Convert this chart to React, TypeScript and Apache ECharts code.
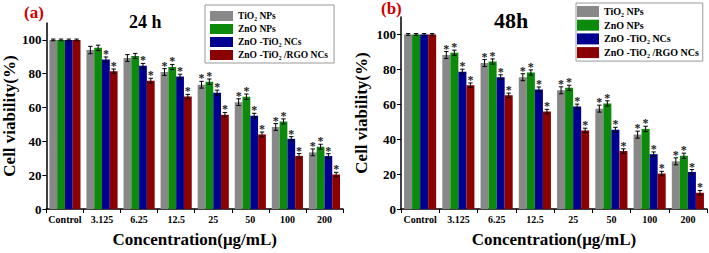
import React, { useEffect, useRef } from "react";
import * as echarts from "echarts";

const categories = ["Control", "3.125", "6.25", "12.5", "25", "50", "100", "200"];
const seriesNames = ["TiO₂ NPs", "ZnO NPs", "ZnO -TiO₂ NCs", "ZnO -TiO₂ /RGO NCs"];
const yTicks = [0, 20, 40, 60, 80, 100];

// 24 h
const tio2_24 = [100, 94, 89.3, 81, 73.5, 63.2, 48.5, 33.5];
const zno_24 = [100, 95.3, 90.5, 84, 75.3, 66.4, 51.8, 36.8];
const znoTio2_24 = [100, 88.4, 84.7, 78.3, 68.8, 55.2, 41.5, 31.3];
const rgo_24 = [100, 81.5, 75.9, 66.5, 55.7, 44.1, 31.4, 20.4];
const tio2Err_24 = [0.5, 2.2, 2.0, 2.0, 2.0, 2.0, 2.0, 2.0];
const znoErr_24 = [0.5, 1.6, 1.5, 1.5, 1.6, 1.6, 1.5, 1.5];
const znoTio2Err_24 = [0.5, 1.5, 1.4, 1.4, 1.5, 1.4, 1.3, 1.4];
const rgoErr_24 = [0.5, 1.3, 1.4, 1.3, 1.4, 1.4, 1.4, 1.3];
const tio2Star_24 = [0, 0, 0, 1, 1, 1, 1, 1];
const znoStar_24 = [0, 0, 0, 1, 1, 1, 1, 1];
const znoTio2Star_24 = [0, 1, 1, 1, 1, 1, 1, 1];
const rgoStar_24 = [0, 1, 1, 1, 1, 1, 1, 1];

// 48 h
const tio2_48 = [100, 88.2, 83.6, 75.5, 68, 57.5, 42.6, 27.3];
const zno_48 = [100, 89.5, 84.5, 78.2, 69.4, 60.5, 45.9, 30.5];
const znoTio2_48 = [100, 78.7, 75.5, 68.5, 58.7, 45.4, 31.4, 21.2];
const rgo_48 = [100, 70.9, 65.1, 55.8, 45, 33.2, 20.3, 9.3];
const tio2Err_48 = [0.5, 2.0, 2.0, 2.0, 2.0, 2.0, 2.0, 2.0];
const znoErr_48 = [0.5, 1.5, 1.5, 1.5, 1.5, 1.5, 1.5, 1.5];
const znoTio2Err_48 = [0.5, 1.4, 1.4, 1.4, 1.4, 1.4, 1.3, 1.4];
const rgoErr_48 = [0.5, 1.3, 1.3, 1.3, 1.3, 1.3, 1.3, 1.3];
const tio2Star_48 = [0, 1, 1, 1, 1, 1, 1, 1];
const znoStar_48 = [0, 1, 1, 1, 1, 1, 1, 1];
const znoTio2Star_48 = [0, 1, 1, 1, 1, 1, 1, 1];
const rgoStar_48 = [0, 1, 1, 1, 1, 1, 1, 1];

const colors = ["#888888", "#0b8a0b", "#000090", "#8b0000"];
const FONT = "'Liberation Serif', 'Times New Roman', serif";

const panels = [
  {
    values: [tio2_24, zno_24, znoTio2_24, rgo_24],
    errs: [tio2Err_24, znoErr_24, znoTio2Err_24, rgoErr_24],
    stars: [tio2Star_24, znoStar_24, znoTio2Star_24, rgoStar_24],
  },
  {
    values: [tio2_48, zno_48, znoTio2_48, rgo_48],
    errs: [tio2Err_48, znoErr_48, znoTio2Err_48, rgoErr_48],
    stars: [tio2Star_48, znoStar_48, znoTio2Star_48, rgoStar_48],
  },
];

const GAP = 0.16;

function makeErrRender(k: number) {
  return (params: any, api: any) => {
    const i = api.value(0);
    const v = api.value(1);
    const e = api.value(2);
    const s = api.value(3);
    const band = api.size([1, 0])[0];
    const groupW = band * (1 - GAP);
    const barW = groupW / 4;
    const c = api.coord([i, v]);
    const x = c[0] - groupW / 2 + barW * (k + 0.5);
    const yTop = api.coord([i, v + e])[1];
    const yBot = api.coord([i, v - e])[1];
    const cap = 2.2;
    const st = { stroke: "#000", lineWidth: 1 };
    const children: any[] = [
      { type: "line", shape: { x1: x, y1: yTop, x2: x, y2: yBot }, style: st },
      { type: "line", shape: { x1: x - cap, y1: yTop, x2: x + cap, y2: yTop }, style: st },
      { type: "line", shape: { x1: x - cap, y1: yBot, x2: x + cap, y2: yBot }, style: st },
    ];
    if (s) {
      children.push({
        type: "text",
        x: x,
        y: yTop + 3,
        style: {
          text: "*",
          fill: "#222",
          font: `bold 12px ${FONT}`,
          textAlign: "center",
          textVerticalAlign: "bottom",
        },
      });
    }
    return { type: "group", children };
  };
}

export default function App() {
  const ref = useRef<HTMLDivElement>(null);
  useEffect(() => {
    const chart = echarts.init(ref.current!, null, { renderer: "svg" });
    const grids = [
      { left: 38, right: 366, top: 23, bottom: 35 },
      { left: 401, right: 2, top: 17, bottom: 36 },
    ];
    const xAxes = grids.map((_, g) => ({
      type: "category",
      gridIndex: g,
      data: categories,
      axisLine: { lineStyle: { color: "#000", width: 1.5 } },
      axisTick: { show: true, length: 4, lineStyle: { color: "#000", width: 1 } },
      axisLabel: { color: "#000", fontFamily: FONT, fontWeight: "bold", fontSize: 10, margin: 5, interval: 0 },
      name: "Concentration(μg/mL)",
      nameLocation: "middle",
      nameGap: 22,
      nameTextStyle: { color: "#000", fontFamily: FONT, fontWeight: "bold", fontSize: 17 },
    }));
    const yAxes = grids.map((_, g) => ({
      type: "value",
      gridIndex: g,
      min: 0,
      max: 110,
      interval: 10,
      splitLine: { show: false },
      axisLine: { show: true, lineStyle: { color: "#000", width: 1.5 } },
      axisTick: { show: true, length: 4, customValues: yTicks, lineStyle: { color: "#000", width: 1 } },
      axisLabel: {
        color: "#000",
        fontFamily: FONT,
        fontWeight: "bold",
        fontSize: 13,
        margin: 5,
        customValues: yTicks,
      },
      name: "Cell viability(%)",
      nameLocation: "middle",
      nameGap: g === 0 ? 27 : 31,
      nameTextStyle: { color: "#000", fontFamily: FONT, fontWeight: "bold", fontSize: 17 },
    }));

    const series: any[] = [];
    panels.forEach((p, g) => {
      p.values.forEach((vals, k) => {
        series.push({
          type: "bar",
          name: seriesNames[k],
          xAxisIndex: g,
          yAxisIndex: g,
          data: vals,
          barGap: "0%",
          barCategoryGap: GAP * 100 + "%",
          itemStyle: { color: colors[k] },
        });
      });
      p.values.forEach((vals, k) => {
        series.push({
          type: "custom",
          name: "err" + g + k,
          xAxisIndex: g,
          yAxisIndex: g,
          z: 10,
          renderItem: makeErrRender(k),
          encode: { x: 0, y: 1 },
          data: categories.map((_, i) => [i, vals[i], p.errs[k][i], p.stars[k][i]]),
        });
      });
    });

    const legendBase = {
      orient: "vertical",
      data: seriesNames,
      icon: "rect",
      itemWidth: 23,
      itemHeight: 10,
      itemGap: 3,
      borderColor: "#999",
      borderWidth: 1,
      selectedMode: false,
      textStyle: { color: "#000", fontFamily: FONT, fontWeight: "bold", fontSize: 9.5 },
    };

    chart.setOption({
      animation: false,
      backgroundColor: "#fff",
      grid: grids,
      xAxis: xAxes,
      yAxis: yAxes,
      legend: [
        { ...legendBase, left: 205, top: 5, padding: [6, 6, 3, 5] },
        {
          ...legendBase,
          left: 576,
          top: 3,
          padding: [3, 4, 3, 1],
          itemWidth: 22,
          itemHeight: 11,
          itemGap: 2.7,
          textStyle: { ...legendBase.textStyle, fontSize: 10 },
        },
      ],
      graphic: [
        { type: "text", left: 24, top: 4, style: { text: "(a)", fill: "#d00000", font: `bold 17px ${FONT}` } },
        { type: "text", left: 129, top: 13, style: { text: "24 h", fill: "#000", font: `bold 18px ${FONT}` } },
        { type: "text", left: 381, top: 0, style: { text: "(b)", fill: "#d00000", font: `bold 17px ${FONT}` } },
        { type: "text", left: 494, top: 9, style: { text: "48h", fill: "#000", font: `bold 22px ${FONT}` } },
      ],
      series,
    });
    return () => chart.dispose();
  }, []);
  return (
    <div
      ref={ref}
      style={{ position: "fixed", left: 0, top: 0, width: 709, height: 253, background: "#fff" }}
    />
  );
}
